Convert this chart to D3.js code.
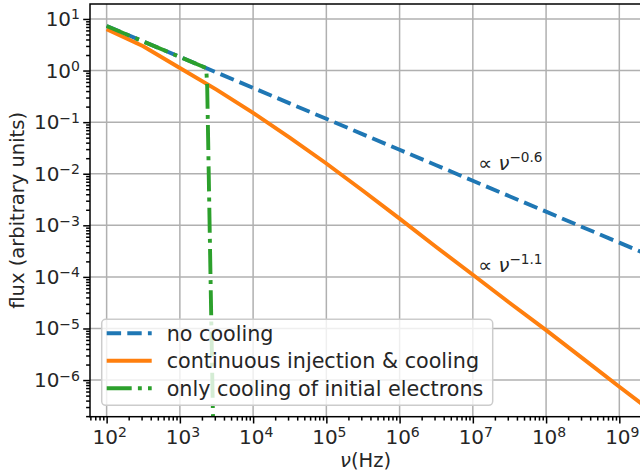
<!DOCTYPE html>
<html>
<head>
<meta charset="utf-8">
<script src="https://cdn.jsdelivr.net/npm/d3@7/dist/d3.min.js"></script>
<style>
  body { margin: 0; background: #fff; }
  text { font-family: "DejaVu Sans", sans-serif; fill: #262626; }
</style>
</head>
<body>
<div id="chart"></div>
<script>
// frequencies (Hz)
const freqs = [1e2, 3.16e2, 1e3, 3.16e3, 1e4, 3.16e4, 1e5, 3.16e5, 1e6, 3.16e6,
               1e7, 3.16e7, 1e8, 3.16e8, 1e9, 2.0e9];
const noCooling = [7.31, 3.66, 1.84, 0.92, 0.461, 0.231, 0.116, 0.058, 0.0291, 0.0146,
                   0.00731, 0.00366, 0.00184, 0.00092, 0.000461, 0.000305];
const continuous = [6.3, 2.95, 1.12, 0.427, 0.151, 0.050, 0.0158, 0.00468, 0.00135, 3.8e-4,
                    1.10e-4, 3.16e-5, 9.3e-6, 2.63e-6, 7.4e-7, 3.5e-7];
// only cooling of initial electrons: follows no cooling, then cuts off
const coolFreqs = [1e2, 3.16e2, 1e3, 2.0e3, 2.29e3, 2.36e3, 2.43e3, 2.57e3, 2.72e3, 2.88e3];
const onlyCooling = [7.31, 3.66, 1.84, 1.21, 1.12, 0.5, 0.05, 5e-4, 5e-6, 5e-8];

const seriesNames = ['no cooling', 'continuous injection & cooling', 'only cooling of initial electrons'];
const xTicks = [1e2, 1e3, 1e4, 1e5, 1e6, 1e7, 1e8, 1e9];
const xTickExp = ['2', '3', '4', '5', '6', '7', '8', '9'];
const yTicks = [1e1, 1e0, 1e-1, 1e-2, 1e-3, 1e-4, 1e-5, 1e-6];
const yTickExp = ['1', '0', '\u22121', '\u22122', '\u22123', '\u22124', '\u22125', '\u22126'];
const slopeLabels = [{exp: '\u22120.6', nu: 1.19e7, f: 0.0118},
                     {exp: '\u22121.1', nu: 1.19e7, f: 1.26e-4}];

const W = 640, H = 474;
const plot = {left: 90, right: 641, top: 4, bottom: 416.7};
const LW = 3.9;
const TICKFONT = 20;

const svg = d3.select('#chart').append('svg')
    .attr('width', W)
    .attr('height', H);
svg.append('rect').attr('width', W).attr('height', H).attr('fill', '#fff');

let x = d3.scaleLog().domain([10 ** 1.773, 10 ** 9.296]).range([plot.left, plot.right]);
let y = d3.scaleLog().domain([10 ** -6.71, 10 ** 1.29]).range([plot.bottom, plot.top]);

svg.append('clipPath').attr('id', 'clip')
  .append('rect')
    .attr('x', plot.left).attr('y', plot.top)
    .attr('width', plot.right - plot.left).attr('height', plot.bottom - plot.top);

// grid
let grid = svg.append('g');
xTicks.forEach(t => {
    grid.append('line')
        .attr('x1', x(t)).attr('x2', x(t))
        .attr('y1', plot.top).attr('y2', plot.bottom)
        .attr('stroke', '#b0b0b0').attr('stroke-width', 1.5);
});
yTicks.forEach(t => {
    grid.append('line')
        .attr('x1', plot.left).attr('x2', plot.right)
        .attr('y1', y(t)).attr('y2', y(t))
        .attr('stroke', '#b0b0b0').attr('stroke-width', 1.5);
});

// lines
let lines = svg.append('g').attr('clip-path', 'url(#clip)');
let line = d3.line().x(d => x(d[0])).y(d => y(d[1]));

lines.append('path')
    .attr('d', line(freqs.map((f, i) => [f, noCooling[i]])))
    .attr('fill', 'none').attr('stroke', '#1f77b4').attr('stroke-width', LW)
    .attr('stroke-dasharray', '14.4,6.2');
lines.append('path')
    .attr('d', line(freqs.map((f, i) => [f, continuous[i]])))
    .attr('fill', 'none').attr('stroke', '#ff7f0e').attr('stroke-width', LW);
lines.append('path')
    .attr('d', line(coolFreqs.map((f, i) => [f, onlyCooling[i]])))
    .attr('fill', 'none').attr('stroke', '#2ca02c').attr('stroke-width', LW)
    .attr('stroke-dasharray', '25,6.2,3.9,6.2');

// axes
let minorX = [], minorY = [];
for (let e = 1; e <= 9; e++) for (let m = 2; m <= 9; m++) {
    let v = m * 10 ** e;
    if (v > x.domain()[0] && v < x.domain()[1]) minorX.push(v);
}
for (let e = -7; e <= 1; e++) for (let m = 2; m <= 9; m++) {
    let v = m * 10 ** e;
    if (v > y.domain()[0] && v < y.domain()[1]) minorY.push(v);
}

let xAxis = svg.append('g').attr('transform', `translate(0,${plot.bottom})`);
xAxis.call(d3.axisBottom(x).tickValues(xTicks).tickSize(6.8).tickFormat(''));
xAxis.append('g').call(d3.axisBottom(x).tickValues(minorX).tickSize(3.9).tickFormat(''));
xAxis.selectAll('.domain').remove();
xAxis.selectAll('line').attr('stroke', '#000').attr('stroke-width', 1.5);

let yAxis = svg.append('g').attr('transform', `translate(${plot.left},0)`);
yAxis.call(d3.axisLeft(y).tickValues(yTicks).tickSize(6.8).tickFormat(''));
yAxis.append('g').call(d3.axisLeft(y).tickValues(minorY).tickSize(3.9).tickFormat(''));
yAxis.selectAll('.domain').remove();
yAxis.selectAll('line').attr('stroke', '#000').attr('stroke-width', 1.5);

function powerLabel(g, base, exp, size) {
    g.append('tspan').text(base);
    g.append('tspan').text(exp).attr('font-size', size * 0.7).attr('dy', -6.5);
}

xTicks.forEach((t, i) => {
    let txt = svg.append('text')
        .attr('x', x(t) + 3).attr('y', 443.5)
        .attr('text-anchor', 'middle').attr('font-size', TICKFONT);
    powerLabel(txt, '10', xTickExp[i], TICKFONT);
});
yTicks.forEach((t, i) => {
    let txt = svg.append('text')
        .attr('x', 80).attr('y', y(t) + 7)
        .attr('text-anchor', 'end').attr('font-size', TICKFONT);
    powerLabel(txt, '10', yTickExp[i], TICKFONT);
});

// spines
svg.append('rect')
    .attr('x', plot.left).attr('y', plot.top)
    .attr('width', plot.right - plot.left).attr('height', plot.bottom - plot.top)
    .attr('fill', 'none').attr('stroke', '#000').attr('stroke-width', 1.5);

// axis labels
let xl = svg.append('text')
    .attr('x', (plot.left + plot.right) / 2).attr('y', 467)
    .attr('text-anchor', 'middle').attr('font-size', 19.5);
xl.append('tspan').text('\u03bd').attr('font-style', 'italic');
xl.append('tspan').text('(Hz)');

svg.append('text')
    .attr('transform', `translate(24,${(plot.top + plot.bottom) / 2}) rotate(-90)`)
    .attr('text-anchor', 'middle').attr('font-size', 19.5)
    .text('flux (arbitrary units)');

// slope annotations
slopeLabels.forEach(s => {
    let txt = svg.append('text')
        .attr('x', x(s.nu)).attr('y', y(s.f))
        .attr('font-size', 19.5);
    txt.append('tspan').text('\u221d ');
    txt.append('tspan').text('\u03bd').attr('font-style', 'italic');
    txt.append('tspan').text(s.exp).attr('font-size', 19.5 * 0.7).attr('dy', -8);
});

// legend
let legend = svg.append('g');
legend.append('rect')
    .attr('x', 101.7).attr('y', 319.3)
    .attr('width', 391).attr('height', 86)
    .attr('rx', 4)
    .attr('fill', '#fff').attr('fill-opacity', 0.8)
    .attr('stroke', '#cccccc').attr('stroke-width', 1.5);
const legendStyles = [
    {color: '#1f77b4', dash: '14.4,6.2'},
    {color: '#ff7f0e', dash: null},
    {color: '#2ca02c', dash: '25,6.2,3.9,6.2'}
];
seriesNames.forEach((name, i) => {
    let cy = 333.3 + i * 27.5;
    legend.append('line')
        .attr('x1', 106.7).attr('x2', 151.7)
        .attr('y1', cy).attr('y2', cy)
        .attr('stroke', legendStyles[i].color).attr('stroke-width', LW)
        .attr('stroke-dasharray', legendStyles[i].dash);
    legend.append('text')
        .attr('x', 166.7).attr('y', cy + 7.5)
        .attr('font-size', 20.7)
        .text(name);
});
</script>
</body>
</html>
